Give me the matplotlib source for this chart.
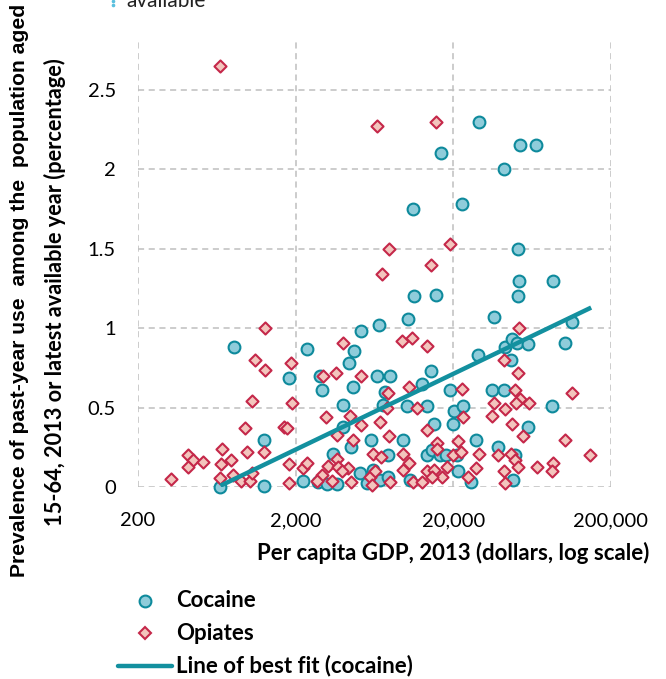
import matplotlib
matplotlib.use("Agg")
import matplotlib.pyplot as plt
from matplotlib.lines import Line2D
from matplotlib.ticker import NullLocator

# Per capita GDP (dollars) and past-year prevalence (%) by country
COCAINE_GDP = [
    666, 810, 1256, 1260, 2344, 1814, 2232, 2766, 2850, 2920,
    3432, 3142, 3636, 4000, 3970, 4480, 4640, 4374, 4660, 5160,
    6780, 5980, 5120, 5640, 6200, 6860, 7740, 6580, 7940, 7360,
    7120, 7740, 9540, 10100, 10360, 11200, 11140, 10620, 12600, 13540,
    14380, 13540, 14580, 16480, 17940, 15100, 15580, 16780, 19060, 19820,
    20200, 23140, 21020, 21520, 22700, 29240, 25900, 27760, 28580, 35360,
    36420, 38280, 41940, 42600, 42160, 46500, 47400, 48060, 49300, 50600,
    51300, 52000, 51500, 52800, 59860, 59860, 67200, 84400, 86000, 102400,
    112800,
]
COCAINE_PREV = [
    0.00, 0.88, 0.30, 0.01, 0.87, 0.69, 0.04, 0.035, 0.70, 0.61,
    0.21, 0.02, 0.02, 0.52, 0.38, 0.255, 0.63, 0.78, 0.855, 0.98,
    1.02, 0.30, 0.09, 0.025, 0.11, 0.045, 0.065, 0.70, 0.70, 0.60,
    0.52, 0.20, 0.30, 0.51, 1.06, 1.20, 1.75, 0.045, 0.65, 0.51,
    0.73, 0.20, 0.235, 0.20, 0.20, 0.40, 1.21, 2.10, 0.61, 0.40,
    0.48, 0.51, 0.20, 0.10, 1.78, 2.30, 0.035, 0.30, 0.83, 0.61,
    1.07, 0.255, 0.61, 0.885, 2.00, 0.80, 0.93, 0.045, 0.20, 0.905,
    1.20, 1.30, 1.50, 2.15, 0.90, 0.38, 2.15, 0.51, 1.30, 0.905,
    1.04,
]

OPIATES_GDP = [
    662, 6580, 15580, 7780, 19140, 14440, 7060, 52400, 1274, 1102,
    1274, 1874, 1050, 1900, 952, 1688, 1750, 415, 447, 415,
    517, 686, 676, 776, 976, 1256, 323, 666, 802, 906,
    1024, 1050, 1814, 1814, 2232, 2344, 4000, 9480, 11000, 13540,
    2964, 3580, 5180, 7660, 10460, 22600, 7620, 11700, 3096, 4420,
    5160, 6860, 13540, 23140, 3636, 4640, 7820, 15660, 21520, 6200,
    6960, 9620, 15660, 19820, 22280, 3670, 3216, 3720, 4270, 3946,
    2920, 2714, 3380, 4480, 5920, 6360, 6060, 7940, 10460, 9620,
    11140, 12600, 13660, 15100, 16880, 18140, 41940, 51720, 49300, 53000,
    50000, 60600, 112800, 36420, 42600, 35360, 47400, 55620, 102400, 29120,
    38280, 46500, 49300, 51720, 67600, 85600, 85000, 147600, 27760, 24900,
    42160, 42600, 14580,
]
OPIATES_PREV = [
    2.65, 2.27, 2.30, 1.50, 1.53, 1.40, 1.34, 1.00, 1.00, 0.80,
    0.74, 0.78, 0.54, 0.53, 0.37, 0.38, 0.37, 0.20, 0.17, 0.13,
    0.16, 0.24, 0.145, 0.17, 0.22, 0.22, 0.05, 0.057, 0.077, 0.04,
    0.04, 0.09, 0.145, 0.025, 0.12, 0.15, 0.91, 0.92, 0.94, 0.89,
    0.70, 0.72, 0.70, 0.59, 0.63, 0.62, 0.50, 0.50, 0.44, 0.45,
    0.39, 0.41, 0.36, 0.44, 0.33, 0.30, 0.325, 0.28, 0.29, 0.21,
    0.19, 0.21, 0.24, 0.20, 0.22, 0.18, 0.135, 0.13, 0.12, 0.10,
    0.077, 0.04, 0.04, 0.035, 0.067, 0.10, 0.015, 0.035, 0.15, 0.11,
    0.035, 0.035, 0.10, 0.11, 0.067, 0.13, 0.80, 0.72, 0.61, 0.555,
    0.53, 0.53, 0.59, 0.53, 0.49, 0.45, 0.40, 0.325, 0.30, 0.21,
    0.20, 0.21, 0.17, 0.13, 0.13, 0.155, 0.10, 0.20, 0.12, 0.067,
    0.10, 0.025, 0.067,
]

# Trend line for cocaine (linear in log GDP)
FIT_GDP = [667, 149700]
FIT_PREV = [0.01, 1.13]

X_TICKS = [200, 2000, 20000, 200000]
X_TICK_LABELS = ["200", "2,000", "20,000", "200,000"]
Y_TICKS = [0, 0.5, 1, 1.5, 2, 2.5]
Y_TICK_LABELS = ["0", "0.5", "1", "1.5", "2", "2.5"]

COC_FACE = "#8FCCDA"
COC_EDGE = "#0E8A9C"
OPI_FACE = "#F3C5BD"
OPI_EDGE = "#C5284A"
FIT_COLOR = "#13909F"
GRID_COLOR = "#BFBFBF"

W, H = 666, 679
plt.rcParams["font.family"] = ["Lato", "DejaVu Sans"]


def fx(px):
    return px / W


def fy(py):
    return 1 - py / H


fig = plt.figure(figsize=(W / 100, H / 100), dpi=100)
ax = fig.add_axes([fx(138), fy(487.3), fx(611) - fx(138), fy(42) - fy(487.3)])

ax.set_xscale("log")
ax.set_xlim(200, 200000)
ax.set_ylim(0, 2.8)
ax.xaxis.set_minor_locator(NullLocator())
ax.set_xticks(X_TICKS)
ax.set_xticklabels(X_TICK_LABELS)
ax.set_yticks(Y_TICKS)
ax.set_yticklabels(Y_TICK_LABELS)
ax.tick_params(axis="both", length=0, labelsize=14.5)
ax.tick_params(axis="x", pad=18)
ax.tick_params(axis="y", pad=16)
for s in ax.spines.values():
    s.set_visible(False)
ax.grid(True, color=GRID_COLOR, linestyle=(0, (4, 3)), linewidth=1.1)
ax.set_axisbelow(True)

ax.scatter(COCAINE_GDP, COCAINE_PREV, s=72, marker="o", facecolor=COC_FACE,
           edgecolor=COC_EDGE, linewidth=1.5, zorder=3, clip_on=False)
ax.scatter(OPIATES_GDP, OPIATES_PREV, s=38, marker="D", facecolor=OPI_FACE,
           edgecolor=OPI_EDGE, linewidth=1.5, zorder=4, clip_on=False)
ax.plot(FIT_GDP, FIT_PREV, color=FIT_COLOR, linewidth=3.2,
        solid_capstyle="butt", zorder=5)

# axis titles
fig.text(fx(20), fy(290), "Prevalence of past-year use  among the  population aged",
         rotation=90, ha="center", va="center", fontsize=15.2, fontweight="bold",
         family=["Liberation Sans", "DejaVu Sans"])
fig.text(fx(55), fy(292), "15-64, 2013 or latest available year (percentage)",
         rotation=90, ha="center", va="center", fontsize=15.7, fontweight="bold")
fig.text(fx(453), fy(553), "Per capita GDP, 2013 (dollars, log scale)",
         ha="center", va="center", fontsize=16, fontweight="bold")

# note fragment at the top edge
fig.text(fx(126), fy(7), "available", ha="left", va="baseline", fontsize=15,
         color="#222222")
fig.add_artist(Line2D([fx(113), fx(113)], [fy(1), fy(5)], transform=fig.transFigure,
                      linestyle="none", marker="o", markersize=1.6,
                      color="#5BC0DE"))

# legend drawn in figure coordinates
fig.add_artist(Line2D([fx(145)], [fy(600.7)], transform=fig.transFigure,
                      marker="o", markersize=8.5, markerfacecolor=COC_FACE,
                      markeredgecolor=COC_EDGE, markeredgewidth=1.5, linestyle="none"))
fig.add_artist(Line2D([fx(145)], [fy(633)], transform=fig.transFigure,
                      marker="D", markersize=6.2, markerfacecolor=OPI_FACE,
                      markeredgecolor=OPI_EDGE, markeredgewidth=1.5, linestyle="none"))
fig.add_artist(Line2D([fx(118), fx(172)], [fy(666), fy(666)], transform=fig.transFigure,
                      color=FIT_COLOR, linewidth=3.2, solid_capstyle="round"))
for label, ypx in [("Cocaine", 600.7), ("Opiates", 633), ("Line of best fit (cocaine)", 666)]:
    fig.text(fx(176), fy(ypx), label, ha="left", va="center", fontsize=16,
             fontweight="bold")

fig.savefig("out.png", dpi=100)
